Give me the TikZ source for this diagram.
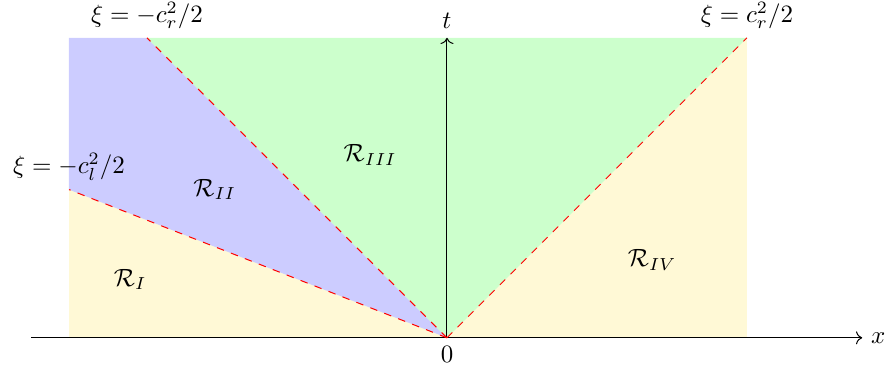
\documentclass[tikz,border=0pt]{standalone}
\usepackage{xcolor}
\usepackage{amsmath,amssymb}
\usepackage{tikz}
\usetikzlibrary{arrows.meta, positioning}
\definecolor{paleyellow}{RGB}{255,249,214}

\begin{document}
\begin{tikzpicture}[x=0.845cm, y=0.845cm]
      \useasboundingbox (-7.45,-0.7) rectangle (7.4,5.63);
      \coordinate (O) at (0,0);
      \coordinate (BL) at (-6.3,0);
      \coordinate (TL) at (-6.3,5);
      \coordinate (TR) at (5,5);
      \coordinate (L) at (-6.3,2.47);
      \coordinate (Cm) at (-5,5);
      \coordinate (xa) at (-6.93,0);
      \coordinate (xb) at (6.92,0);
      \coordinate (ta) at (0,5);
      \fill[paleyellow] (BL) rectangle (TR);
      \fill[blue!20] (O) -- (L) -- (TL) -- (Cm) -- cycle;
      \fill[green!20] (O) -- (Cm) -- (TR) -- cycle;
      \draw[->] (xa) -- (xb) node[right] (xlab) {$x$};
      \draw[->] (O) -- (ta) node[above] (tlab) {$t$};
      \draw[dashed, red] (O) -- (L) node[above, black] (xil) {$\xi=-c_l^2/2$};
      \draw[dashed, red] (O) -- (Cm) node[above, black] (xirm) {$\xi=-c_r^2/2$};
      \draw[dashed, red] (O) -- (TR) node[above, black] (xirp) {$\xi=c_r^2/2$};
      \node[below] (zero) at (O) {$0$};
      \node (R1) at (-5.28,0.97) {$\mathcal{R}_I$};
      \node (R2) at (-3.87,2.47) {$\mathcal{R}_{II}$};
      \node (R3) at (-1.28,3.05) {$\mathcal{R}_{III}$};
      \node (R4) at (3.42,1.3) {$\mathcal{R}_{IV}$};
    \end{tikzpicture}
\end{document}
